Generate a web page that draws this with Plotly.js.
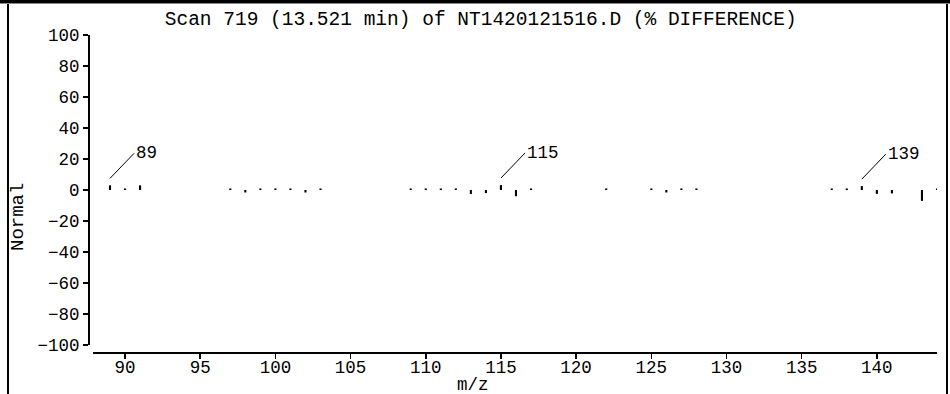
<!DOCTYPE html>
<html>
<head>
<meta charset="utf-8">
<script src="https://cdn.plot.ly/plotly-3.0.1.min.js"></script>
<style>
  html, body { margin: 0; padding: 0; background: #fff; }
  #wrap { position: relative; width: 950px; height: 394px; }
  #chart { width: 950px; height: 394px; }
  #frame { position: absolute; left: 7px; top: 0; width: 941px; height: 394px; z-index: 10;
           border-left: 2px solid #000; border-right: 2px solid #000;
           box-sizing: border-box; pointer-events: none; }
  #topbar { position: absolute; left: 0; top: 0; width: 950px; height: 3px; z-index: 11;
            background: #000; pointer-events: none; }
  #topbar2 { position: absolute; left: 0; top: 3px; width: 950px; height: 1px; z-index: 11;
            background: #888; pointer-events: none; }
</style>
</head>
<body>
<div id="wrap">
  <div id="chart"></div>
  <div id="frame"></div>
  <div id="topbar"></div>
  <div id="topbar2"></div>
</div>
<script>
// m/z values and % difference values
var mz   = [89, 90, 91, 97, 98, 99, 100, 101, 102, 103,
            109, 110, 111, 112, 113, 114, 115, 116, 117,
            122, 125, 126, 127, 128,
            137, 138, 139, 140, 141, 143, 144];
var diff = [3.0, 1.0, 3.0, 1.0, -1.6, 1.0, 1.0, 1.0, -1.6, 1.0,
            1.0, 1.0, 1.0, 1.0, -2.6, -2.0, 3.2, -4.0, 1.0,
            1.0, 1.0, -1.6, 1.0, 1.0,
            1.0, 1.0, 2.5, -2.5, -2.2, -7.0, 1.0];
var labelMz = [89, 115, 139];
var labelText = ["89", "115", "139"];
var titleText = "Scan 719 (13.521 min) of NT1420121516.D (% DIFFERENCE)";
var yTickVals = [-100, -80, -60, -40, -20, 0, 20, 40, 60, 80, 100];
var xTickVals = [90, 95, 100, 105, 110, 115, 120, 125, 130, 135, 140];

var FONT = "Liberation Mono, Courier New, monospace";

var trace = {
  type: "bar",
  x: mz,
  y: diff,
  width: 0.14,
  marker: { color: "#000", line: { width: 0 } },
  hoverinfo: "skip"
};

var annotations = labelMz.map(function (m, i) {
  var v = diff[mz.indexOf(m)];
  return {
    x: m, y: v + 4.5, xref: "x", yref: "y",
    text: labelText[i],
    showarrow: true, arrowhead: 0, arrowwidth: 1, arrowcolor: "#000",
    ax: 24, ay: -25, xanchor: "left", yanchor: "middle",
    font: { family: FONT, size: 17.5, color: "#000" }
  };
});
annotations.push({
  text: "Normal", textangle: -90, showarrow: false,
  xref: "paper", yref: "paper", x: -0.0837, y: 0.4277,
  xanchor: "center", yanchor: "middle",
  font: { family: FONT, size: 19, color: "#000" }
});
annotations.push({
  text: "m/z", showarrow: false,
  xref: "paper", yref: "paper", x: 0.4528, y: -0.102,
  xanchor: "center", yanchor: "middle",
  font: { family: FONT, size: 17.5, color: "#000" }
});

var layout = {
  width: 950, height: 394,
  margin: { l: 89, r: 13, t: 35, b: 41, pad: 0 },
  paper_bgcolor: "#fff", plot_bgcolor: "#fff",
  showlegend: false,
  title: {
    text: titleText, xref: "container", yref: "container",
    x: 0.506, y: 1 - 18.5 / 394, xanchor: "center", yanchor: "middle",
    font: { family: FONT, size: 19.5, color: "#000" }
  },
  xaxis: {
    domain: [4 / 848, 1], range: [87.87, 144.0],
    anchor: "free", position: 0,
    showline: true, linecolor: "#000", linewidth: 2,
    showgrid: false, zeroline: false,
    ticks: "outside", ticklen: 5, tickwidth: 1.5, tickcolor: "#000",
    ticklabelstandoff: -7,
    tickvals: xTickVals,
    tickfont: { family: FONT, size: 17.5, color: "#000" }
  },
  yaxis: {
    domain: [8 / 318, 1], range: [-100, 100],
    anchor: "free", position: 0,
    showline: true, linecolor: "#000", linewidth: 2,
    showgrid: false, zeroline: false,
    ticks: "outside", ticklen: 5, tickwidth: 1.5, tickcolor: "#000",
    tickvals: yTickVals,
    tickfont: { family: FONT, size: 17.5, color: "#000" }
  },
  annotations: annotations
};

Plotly.newPlot("chart", [trace], layout, { staticPlot: true, displayModeBar: false });
</script>
</body>
</html>
